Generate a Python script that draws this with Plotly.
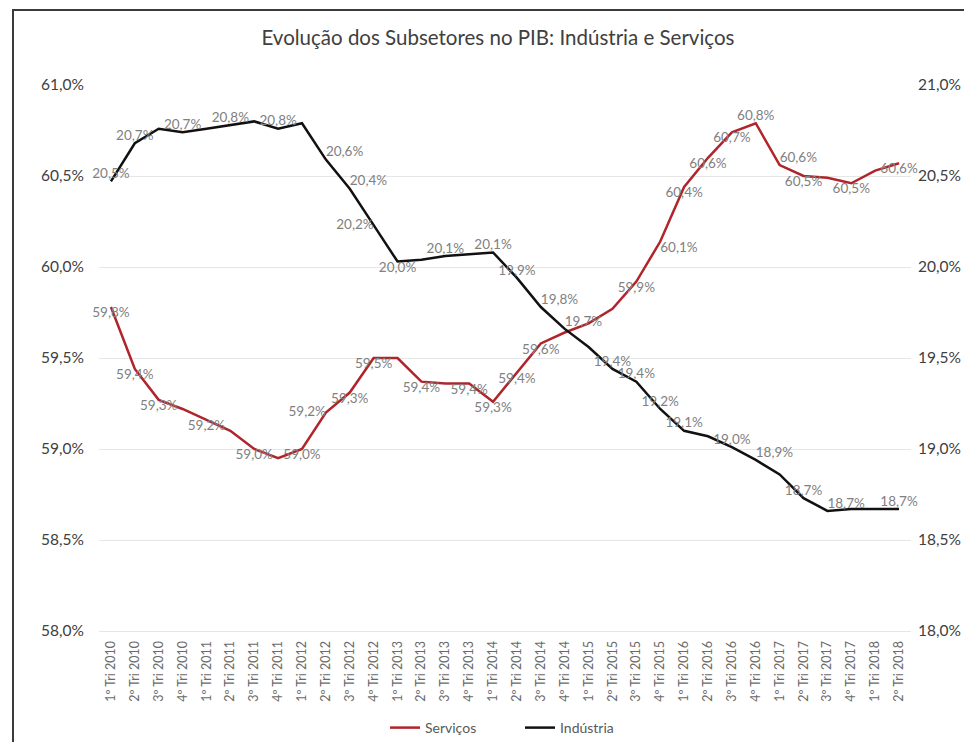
import plotly.graph_objects as go

categorias = [f"{q}º Tri {a}" for a in range(2010, 2019) for q in range(1, 5)][:34]

servicos = [59.78, 59.44, 59.27, 59.22, 59.16, 59.10, 59.00, 58.95, 59.00, 59.20,
            59.31, 59.50, 59.50, 59.37, 59.36, 59.36, 59.26, 59.42, 59.58, 59.64,
            59.69, 59.77, 59.92, 60.14, 60.44, 60.60, 60.74, 60.79, 60.56, 60.50,
            60.49, 60.46, 60.53, 60.57]

industria = [20.47, 20.68, 20.76, 20.74, 20.76, 20.78, 20.80, 20.76, 20.79, 20.59,
             20.43, 20.23, 20.03, 20.04, 20.06, 20.07, 20.08, 19.94, 19.78, 19.66,
             19.56, 19.44, 19.37, 19.22, 19.10, 19.07, 19.01, 18.94, 18.86, 18.73,
             18.66, 18.67, 18.67, 18.67]

# which points show a data label, and where
serv_label_pos = {0: "bottom center", 1: "bottom center", 2: "bottom center", 4: "bottom center",
                  6: "bottom center", 8: "bottom center", 9: "middle left", 10: "bottom center",
                  11: "bottom center", 13: "bottom center", 15: "bottom center", 16: "bottom center",
                  17: "bottom center", 18: "bottom center", 22: "bottom center", 23: "bottom right",
                  24: "bottom center", 25: "bottom center", 26: "bottom center", 27: "top center",
                  28: "top right", 29: "bottom center", 31: "bottom center", 33: "bottom center"}
ind_label_pos = {0: "top center", 1: "top center", 3: "top center", 5: "top center",
                 7: "top center", 9: "top right", 10: "top right", 11: "middle left",
                 12: "bottom center", 14: "top center", 16: "top center", 17: "top center",
                 18: "top right", 19: "top right", 21: "top center", 22: "top center",
                 23: "top center", 24: "top center", 26: "top center", 27: "top right",
                 29: "top center", 30: "top right", 33: "top center"}

def fmt(v):
    return f"{v:.1f}%".replace(".", ",")

def labels(vals, pos):
    txt = [fmt(v) if i in pos else "" for i, v in enumerate(vals)]
    tp = [pos.get(i, "top center") for i in range(len(vals))]
    return txt, tp

s_txt, s_tp = labels(servicos, serv_label_pos)
i_txt, i_tp = labels(industria, ind_label_pos)

FONT = "Lato, 'Open Sans', sans-serif"
label_font = dict(family=FONT, size=13.5, color="#808080")

fig = go.Figure()
fig.add_trace(go.Scatter(
    x=categorias, y=servicos, name="Serviços", mode="lines+text",
    line=dict(color="#b0242b", width=2.5),
    text=s_txt, textposition=s_tp, textfont=label_font, cliponaxis=False,
    yaxis="y"))
fig.add_trace(go.Scatter(
    x=categorias, y=industria, name="Indústria", mode="lines+text",
    line=dict(color="#111111", width=2.5),
    text=i_txt, textposition=i_tp, textfont=label_font, cliponaxis=False,
    yaxis="y2"))

axis_font = dict(family=FONT, size=15.5, color="#404040")

# page has an 8px body margin, so the figure is offset by 8px in the window
W, H = 964, 734
L, T = 91, 77
R = W - 903
B = H - 623
pw, ph = W - L - R, H - T - B

fig.update_layout(
    width=W, height=H,
    margin=dict(l=L, r=R, t=T, b=B, autoexpand=False),
    paper_bgcolor="white", plot_bgcolor="white",
    separators=",.",
    font=dict(family=FONT, color="#404040"),
    title=dict(text="Evolução dos Subsetores no PIB: Indústria e Serviços",
               x=490 / W, xanchor="center", xref="container",
               y=1 - 30 / H, yanchor="middle", yref="container",
               font=dict(family=FONT, size=20.5, color="#404040")),
    xaxis=dict(type="category", categoryorder="array", categoryarray=categorias,
               range=[-0.5, len(categorias) - 0.5], tickangle=-90,
               tickfont=dict(family=FONT, size=12.5, color="#6a6a6a"),
               showgrid=False, showline=True, linecolor="#e6e6e6", linewidth=1,
               ticks="", automargin=False, ticklabelstandoff=4),
    yaxis=dict(range=[58, 61], dtick=0.5, tickformat=".1f", ticksuffix="%",
               tickfont=axis_font, showgrid=True, gridcolor="#e6e6e6", gridwidth=1,
               zeroline=False, showline=False, ticks="", ticklabelstandoff=14,
               automargin=False),
    yaxis2=dict(range=[18, 21], dtick=0.5, tickformat=".1f", ticksuffix="%",
                tickfont=axis_font, overlaying="y", side="right", showgrid=False,
                zeroline=False, showline=False, ticks="", ticklabelstandoff=6,
                automargin=False),
    legend=dict(orientation="h", x=(512 - L) / pw, xanchor="center",
                y=-(720 - (T + ph)) / ph, yanchor="middle",
                font=dict(family=FONT, size=14, color="#595959"),
                itemwidth=30, tracegroupgap=0,
                entrywidth=90, entrywidthmode="pixels"),
    showlegend=True,
)

# outer chart-area border (cropped on the right/bottom as in the reference)
fig.add_shape(type="rect", xref="paper", yref="paper",
              x0=(5 - L) / pw, x1=(990 - L) / pw,
              y0=-(760 - (T + ph)) / ph, y1=1 + (T - 2) / ph,
              line=dict(color="#3a3a3a", width=2), fillcolor="rgba(0,0,0,0)", layer="below")

fig.write_html("out.html")
